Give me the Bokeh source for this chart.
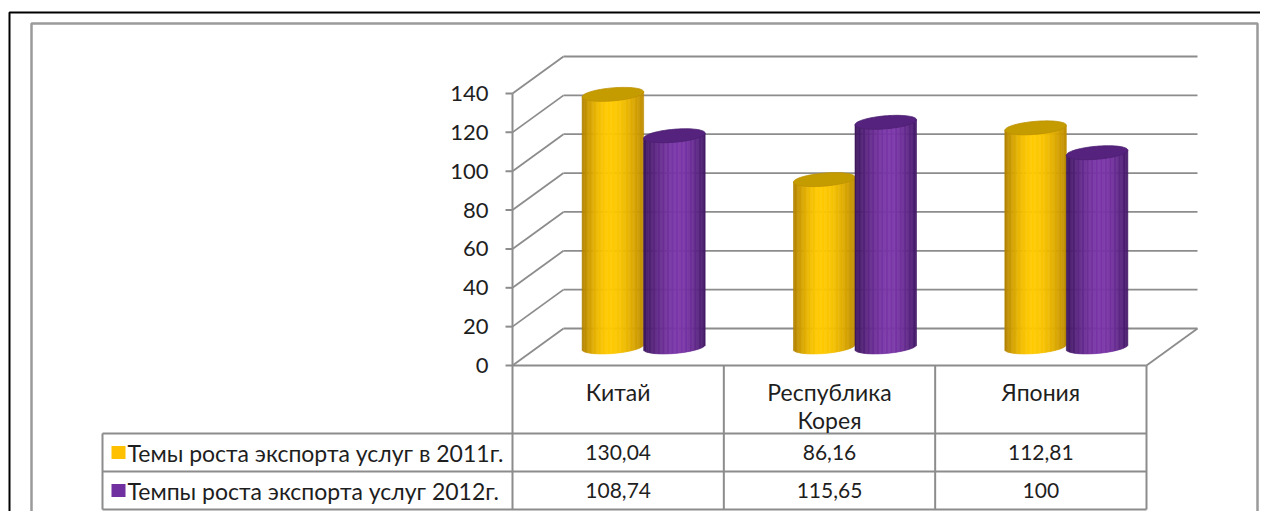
import numpy as np
from bokeh.plotting import figure
from bokeh.models import Range1d
from bokeh.core.properties import value
from bokeh.embed import file_html
from bokeh.resources import INLINE

# ---------------- data ----------------
categories = ["Китай", "Республика\nКорея", "Япония"]
series_names = ["Темы роста экспорта услуг в 2011г.", "Темпы роста экспорта услуг 2012г."]
values_2011 = [130.04, 86.16, 112.81]
values_2012 = [108.74, 115.65, 100]
labels_2011 = ["130,04", "86,16", "112,81"]
labels_2012 = ["108,74", "115,65", "100"]
y_ticks = [0, 20, 40, 60, 80, 100, 120, 140]

# ---------------- layout (picture pixels) ----------------
W, H = 1260, 511
OFF = 0
AXIS_PX = 512.0
FLOOR_PX = 365.0
TOP_PX = 93.0
NCAT = len(categories)
RIGHT_PX = 1146.0
PX_X = (RIGHT_PX - AXIS_PX) / NCAT
PX_Y = (FLOOR_PX - TOP_PX) / y_ticks[-1]


def X(px):
    return (px - AXIS_PX) / PX_X


def Y(py):
    return (FLOOR_PX - py) / PX_Y


DX = 51.0 / PX_X
DY = 37.0 / PX_Y
FONT = value("Lato")
TXT = "#1e1e1e"
GRID = "#8c8c8c"

p = figure(width=W, height=H, output_backend="svg", toolbar_location=None,
           x_range=Range1d(X(OFF), X(OFF + W)), y_range=Range1d(Y(OFF + H), Y(OFF)),
           min_border=0, tools="")
p.axis.visible = False
p.grid.visible = False
p.outline_line_color = None
p.background_fill_color = "white"
p.border_fill_color = "white"

# outer frames
p.line([X(9), X(9), X(1280)], [Y(530), Y(12), Y(12)], line_color="black", line_width=2)
p.line([X(31), X(31), X(1257), X(1257)], [Y(530), Y(23), Y(23), Y(530)], line_color="#9a9a9a", line_width=2.5)

# back wall gridlines & diagonals
n = len(y_ticks)
p.segment(x0=[DX] * n, y0=[v + DY for v in y_ticks], x1=[NCAT + DX] * n, y1=[v + DY for v in y_ticks],
          line_color=GRID, line_width=1.8)
p.segment(x0=[0] * n, y0=y_ticks, x1=[DX] * n, y1=[v + DY for v in y_ticks],
          line_color=GRID, line_width=1.8)
p.segment(x0=[NCAT], y0=[0], x1=[NCAT + DX], y1=[DY], line_color=GRID, line_width=1.8)

# y axis
p.segment(x0=[0], y0=[y_ticks[-1]], x1=[0], y1=[Y(509)], line_color=GRID, line_width=2)
p.segment(x0=[X(505)] * n, y0=y_ticks, x1=[0] * n, y1=y_ticks, line_color=GRID, line_width=2)
p.text(x=[X(488)] * n, y=y_ticks, text=[str(v) for v in y_ticks], text_align="right",
       text_baseline="middle", text_font=FONT, text_font_size="22px", text_color=TXT)

# ---------------- cylinders ----------------
BAR_W = 61.5 / PX_X
A = BAR_W / 2
B = 6.5 / PX_Y
SLOPE = (5.0 / 61.5) * (PX_X / PX_Y)  # value units per data-x unit
NS = 48


def hex2rgb(h):
    h = h.lstrip("#")
    return np.array([int(h[i:i + 2], 16) for i in (0, 2, 4)], dtype=float)


def mix(c1, c2, w):
    c = hex2rgb(c1) * (1 - w) + hex2rgb(c2) * w
    return "#%02x%02x%02x" % tuple(int(round(v)) for v in c)


styles = [
    dict(edgeL="#b08000", edgeR="#bd8c00", hi="#ffca00", peak=0.45, top="#c59c00"),
    dict(edgeL="#3c165c", edgeR="#441a66", hi="#7a36a8", peak=0.58, top="#55237e"),
]

for s, vals in enumerate([values_2011, values_2012]):
    st = styles[s]
    for i, v in enumerate(vals):
        cx = i + 0.5 + DX / 2 + (s - 0.5) * BAR_W
        base = DY / 2
        topv = v + DY / 2
        edges = np.linspace(cx - A, cx + A, NS + 1)
        l, r = edges[:-1], edges[1:]
        mid = (l + r) / 2
        u = (mid - (cx - A)) / (2 * A)
        cols = []
        for uu in u:
            if uu < st["peak"]:
                w = np.sin(0.5 * np.pi * uu / st["peak"])
                cols.append(mix(st["edgeL"], st["hi"], w))
            else:
                w = np.sin(0.5 * np.pi * (1 - uu) / (1 - st["peak"]))
                cols.append(mix(st["edgeR"], st["hi"], w))
        rel = (mid - cx) / A
        bot = base + SLOPE * (mid - cx) - B * np.sqrt(np.clip(1 - rel ** 2, 0, 1))
        top = topv + SLOPE * (mid - cx)
        p.quad(left=l, right=r, bottom=bot, top=top, fill_color=cols, line_color=cols, line_width=0.6)
        t = np.linspace(0, 2 * np.pi, 80)
        ex = cx + A * np.cos(t)
        ey = topv + B * np.sin(t) + SLOPE * A * np.cos(t)
        p.patch(ex, ey, fill_color=st["top"], line_color=mix(st["top"], st["edgeL"], 0.4), line_width=0.8)

# ---------------- data table ----------------
ROW1, ROW2, ROW3 = 433, 471, 509
p.segment(x0=[0, X(102), X(102), X(102)], y0=[0, Y(ROW1), Y(ROW2), Y(ROW3)],
          x1=[NCAT] * 4, y1=[0, Y(ROW1), Y(ROW2), Y(ROW3)], line_color=GRID, line_width=2)
p.segment(x0=[X(102)] + list(range(1, NCAT + 1)), y0=[Y(ROW1)] + [0] * NCAT,
          x1=[X(102)] + list(range(1, NCAT + 1)), y1=[Y(ROW3)] * (NCAT + 1), line_color=GRID, line_width=2)

for i, c in enumerate(categories):
    for k, line in enumerate(c.split("\n")):
        p.text(x=[i + 0.5], y=[Y(391 + 28 * k)], text=[line], text_align="center", text_baseline="middle",
               text_font=FONT, text_font_size="23px", text_color=TXT)

row_y = [Y(452), Y(490)]
for s, (name, labs) in enumerate(zip(series_names, [labels_2011, labels_2012])):
    p.rect(x=[X(118)], y=[row_y[s]], width=14, height=13, width_units="screen", height_units="screen",
           fill_color="#ffc000" if s == 0 else "#7030a0", line_color=None)
    p.text(x=[X(127)], y=[row_y[s]], text=[name], text_align="left", text_baseline="middle",
           text_font=FONT, text_font_size="23px", text_color=TXT)
    p.text(x=[i + 0.5 for i in range(NCAT)], y=[row_y[s]] * NCAT, text=labs, text_align="center",
           text_baseline="middle", text_font=FONT, text_font_size="21px", text_color=TXT)

open("out.html", "w").write(file_html(p, INLINE))
